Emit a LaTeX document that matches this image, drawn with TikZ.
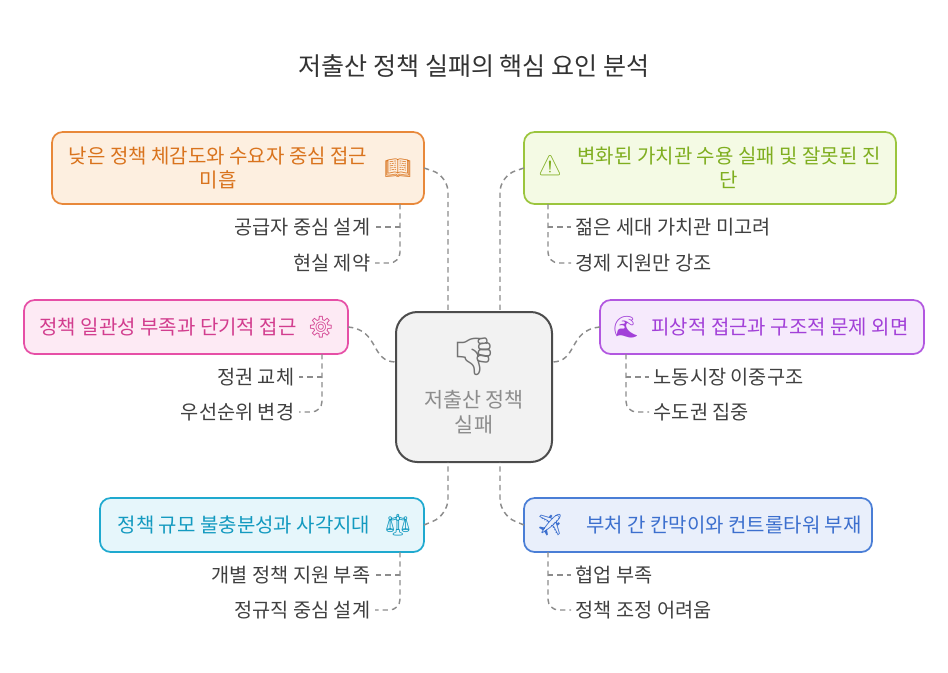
\documentclass[tikz,border=0pt]{standalone}
\usepackage{fontspec}
\setmainfont{Noto Sans CJK KR}
\newfontfamily\emo{Noto Emoji}
\begin{document}
\begin{tikzpicture}[x=0.75pt,y=-0.75pt,
  lbl/.style={font=\fontsize{14.8pt}{17pt}\selectfont,text=black!75},
  conn/.style={draw=black!45,dashed,line width=1.1pt,dash pattern=on 4pt off 3pt,rounded corners=12pt},
  sub/.style={draw=black!45,line width=1.1pt,dash pattern=on 4pt off 3pt,rounded corners=8pt},
  cat/.style={rounded corners=8pt,line width=1.3pt,align=center,font=\fontsize{15pt}{18pt}\selectfont,inner sep=0pt}]
\useasboundingbox (0,0) rectangle (948,672);
\node[font=\fontsize{18.8pt}{22pt}\selectfont,text=black!80] (title) at (474,66) {저출산 정책 실패의 핵심 요인 분석};
% center
\node[draw=black!70,fill=black!5,rounded corners=16pt,line width=1.5pt,minimum width=156*0.75pt,minimum height=150*0.75pt] (c) at (474,387) {};
\node[text=black!45,align=center,font=\fontsize{15.5pt}{19pt}\selectfont] (ct) at (474,412) {저출산 정책\\실패};
\node[text=black!55,font=\emo\fontsize{28pt}{28pt}\selectfont] (ci) at (474,357) {👎};
% boxes
\definecolor{oB}{HTML}{E8883A}\definecolor{oF}{HTML}{FDEFE0}\definecolor{oT}{HTML}{D9731D}
\definecolor{gB}{HTML}{9BC53D}\definecolor{gF}{HTML}{F4FAE4}\definecolor{gT}{HTML}{7FAE1F}
\definecolor{pB}{HTML}{E64FA6}\definecolor{pF}{HTML}{FDEAF4}\definecolor{pT}{HTML}{D23D8E}
\definecolor{vB}{HTML}{B257E0}\definecolor{vF}{HTML}{F6EAFC}\definecolor{vT}{HTML}{A240D8}
\definecolor{cB}{HTML}{1FA9CF}\definecolor{cF}{HTML}{E6F6FB}\definecolor{cT}{HTML}{139AC0}
\definecolor{bB}{HTML}{4A7ED6}\definecolor{bF}{HTML}{E9EFFB}\definecolor{bT}{HTML}{3C6FCE}
\draw[cat,draw=oB,fill=oF] (52,132) rectangle (424,204);
\node[cat,text=oT] (o) at (218,168) {낮은 정책 체감도와 수요자 중심 접근\\미흡};
\node[text=oT,font=\emo\fontsize{16pt}{16pt}\selectfont] (oi) at (398,168) {📖};
\draw[cat,draw=gB,fill=gF] (524,132) rectangle (896,204);
\node[cat,text=gT] (g) at (729,168) {변화된 가치관 수용 실패 및 잘못된 진\\단};
\node[text=gT,font=\emo\fontsize{15pt}{15pt}\selectfont] (gi) at (550,166) {⚠};
\draw[cat,draw=pB,fill=pF] (24,300) rectangle (348,354);
\node[cat,text=pT] (p) at (168,327) {정책 일관성 부족과 단기적 접근};
\node[text=pT,font=\emo\fontsize{16pt}{16pt}\selectfont] (pi) at (321,327) {⚙};
\draw[cat,draw=vB,fill=vF] (600,300) rectangle (924,354);
\node[cat,text=vT] (v) at (780,327) {피상적 접근과 구조적 문제 외면};
\node[text=vT,font=\emo\fontsize{16pt}{16pt}\selectfont] (vi) at (626,327) {🌊};
\draw[cat,draw=cB,fill=cF] (100,498) rectangle (424,552);
\node[cat,text=cT] (cy) at (244,525) {정책 규모 불충분성과 사각지대};
\node[text=cT,font=\emo\fontsize{16pt}{16pt}\selectfont] (cyi) at (398,525) {⚖};
\draw[cat,draw=bB,fill=bF] (524,498) rectangle (872,552);
\node[cat,text=bT] (b) at (724,525) {부처 간 칸막이와 컨트롤타워 부재};
\node[text=bT,font=\emo\fontsize{16pt}{16pt}\selectfont] (bi) at (550,525) {✈};
% connectors
\draw[conn] (424,168) -- (448,176) -- (448,312);
\draw[conn] (524,168) -- (500,176) -- (500,312);
\draw[conn] (348,327) .. controls (380,330) and (370,362) .. (396,362);
\draw[conn] (600,327) .. controls (568,330) and (578,362) .. (552,362);
\draw[conn] (424,525) -- (448,515) -- (448,462);
\draw[conn] (524,525) -- (500,515) -- (500,462);
% subs
\node[lbl,anchor=east] (o1) at (375,227) {공급자 중심 설계};
\node[lbl,anchor=east] (o2) at (375,263) {현실 제약};
\draw[sub] (400,204) |- (o2.east); \draw[sub] (400,227) -- (o1.east);
\node[lbl,anchor=west] (g1) at (571,227) {젊은 세대 가치관 미고려};
\node[lbl,anchor=west] (g2) at (571,263) {경제 지원만 강조};
\draw[sub] (548,204) |- (g2.west); \draw[sub] (548,227) -- (g1.west);
\node[lbl,anchor=east] (p1) at (299,377) {정권 교체};
\node[lbl,anchor=east] (p2) at (299,412) {우선순위 변경};
\draw[sub] (322,354) |- (p2.east); \draw[sub] (322,377) -- (p1.east);
\node[lbl,anchor=west] (v1) at (649,377) {노동시장 이중구조};
\node[lbl,anchor=west] (v2) at (649,412) {수도권 집중};
\draw[sub] (626,354) |- (v2.west); \draw[sub] (626,377) -- (v1.west);
\node[lbl,anchor=east] (c1) at (375,575) {개별 정책 지원 부족};
\node[lbl,anchor=east] (c2) at (375,610) {정규직 중심 설계};
\draw[sub] (400,552) |- (c2.east); \draw[sub] (400,575) -- (c1.east);
\node[lbl,anchor=west] (b1) at (571,575) {협업 부족};
\node[lbl,anchor=west] (b2) at (571,610) {정책 조정 어려움};
\draw[sub] (548,552) |- (b2.west); \draw[sub] (548,575) -- (b1.west);
\end{tikzpicture}
\end{document}
